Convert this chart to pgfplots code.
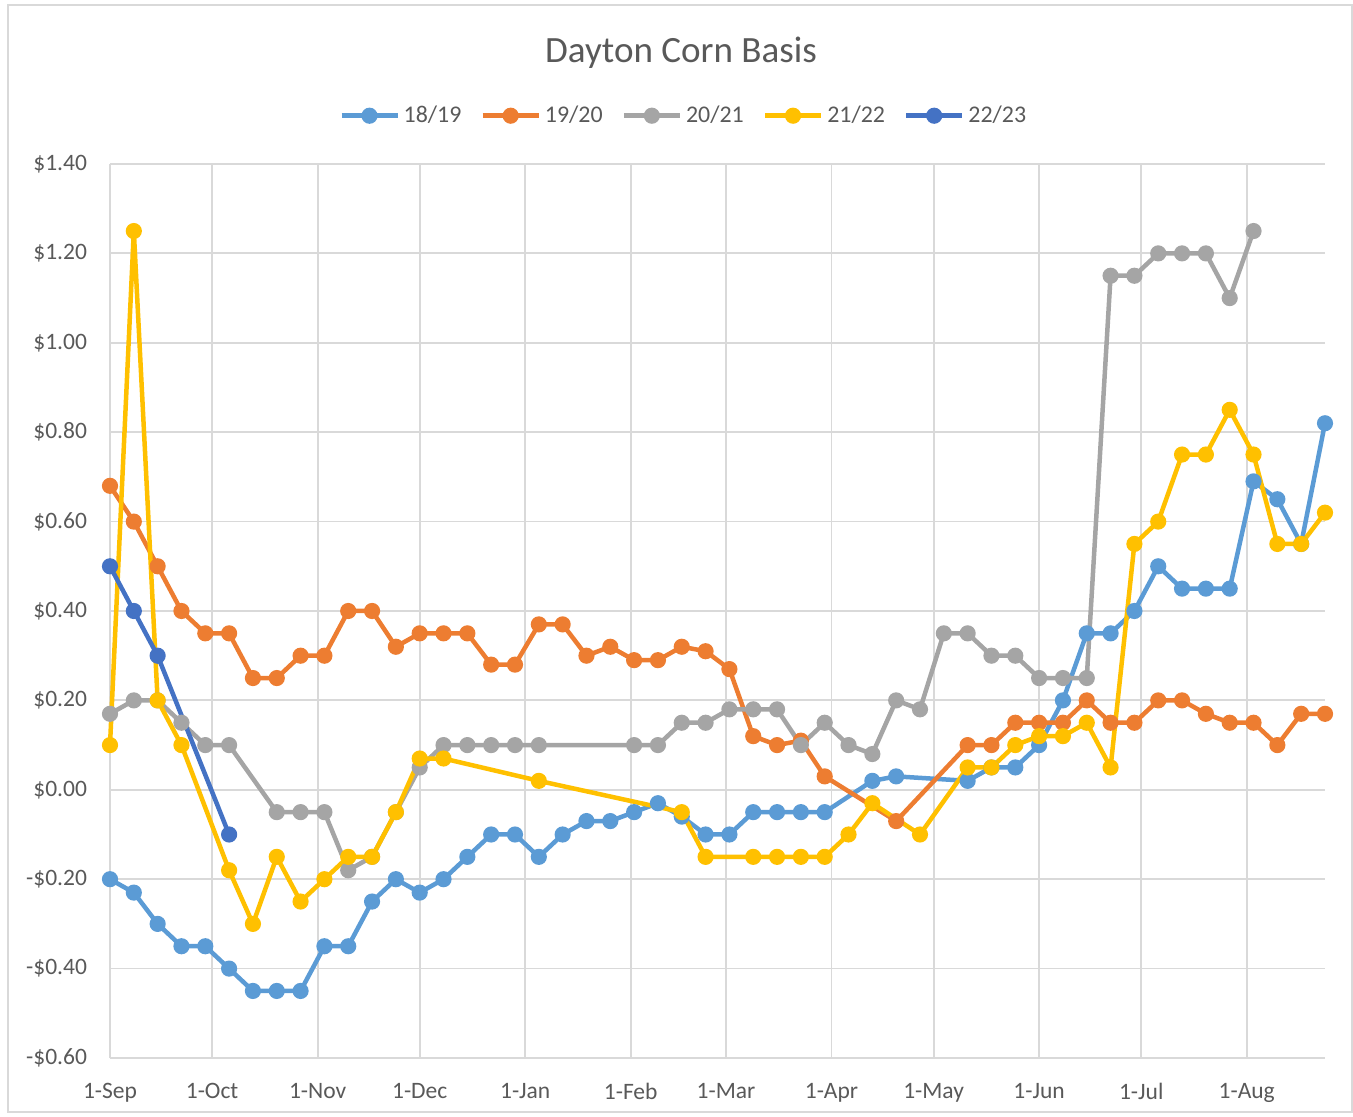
\documentclass[border=0pt]{standalone}
\usepackage{fontspec}
\setmainfont{Carlito}
\usepackage{pgfplots}
\pgfplotsset{compat=1.18}
\usepackage{pgfplotstable}
\definecolor{txt}{HTML}{595959}
\definecolor{gridc}{HTML}{D9D9D9}
\definecolor{cA}{HTML}{5B9BD5}
\definecolor{cB}{HTML}{ED7D31}
\definecolor{cC}{HTML}{A5A5A5}
\definecolor{cD}{HTML}{FFC000}
\definecolor{cE}{HTML}{4472C4}

\pgfplotstableread{
x y
0 -0.20
1 -0.23
2 -0.30
3 -0.35
4 -0.35
5 -0.40
6 -0.45
7 -0.45
8 -0.45
9 -0.35
10 -0.35
11 -0.25
12 -0.20
13 -0.23
14 -0.20
15 -0.15
16 -0.10
17 -0.10
18 -0.15
19 -0.10
20 -0.07
21 -0.07
22 -0.05
23 -0.03
24 -0.06
25 -0.10
26 -0.10
27 -0.05
28 -0.05
29 -0.05
30 -0.05
32 0.02
33 0.03
36 0.02
37 0.05
38 0.05
39 0.10
40 0.20
41 0.35
42 0.35
43 0.40
44 0.50
45 0.45
46 0.45
47 0.45
48 0.69
49 0.65
50 0.55
51 0.82
}\sA

\pgfplotstableread{
x y
0 0.68
1 0.60
2 0.50
3 0.40
4 0.35
5 0.35
6 0.25
7 0.25
8 0.30
9 0.30
10 0.40
11 0.40
12 0.32
13 0.35
14 0.35
15 0.35
16 0.28
17 0.28
18 0.37
19 0.37
20 0.30
21 0.32
22 0.29
23 0.29
24 0.32
25 0.31
26 0.27
27 0.12
28 0.10
29 0.11
30 0.03
33 -0.07
36 0.10
37 0.10
38 0.15
39 0.15
40 0.15
41 0.20
42 0.15
43 0.15
44 0.20
45 0.20
46 0.17
47 0.15
48 0.15
49 0.10
50 0.17
51 0.17
}\sB

\pgfplotstableread{
x y
0 0.17
1 0.20
2 0.20
3 0.15
4 0.10
5 0.10
7 -0.05
8 -0.05
9 -0.05
10 -0.18
11 -0.15
12 -0.05
13 0.05
14 0.10
15 0.10
16 0.10
17 0.10
18 0.10
22 0.10
23 0.10
24 0.15
25 0.15
26 0.18
27 0.18
28 0.18
29 0.10
30 0.15
31 0.10
32 0.08
33 0.20
34 0.18
35 0.35
36 0.35
37 0.30
38 0.30
39 0.25
40 0.25
41 0.25
42 1.15
43 1.15
44 1.20
45 1.20
46 1.20
47 1.10
48 1.25
}\sC

\pgfplotstableread{
x y
0 0.10
1 1.25
2 0.20
3 0.10
5 -0.18
6 -0.30
7 -0.15
8 -0.25
9 -0.20
10 -0.15
11 -0.15
12 -0.05
13 0.07
14 0.07
18 0.02
24 -0.05
25 -0.15
27 -0.15
28 -0.15
29 -0.15
30 -0.15
31 -0.10
32 -0.03
34 -0.10
36 0.05
37 0.05
38 0.10
39 0.12
40 0.12
41 0.15
42 0.05
43 0.55
44 0.60
45 0.75
46 0.75
47 0.85
48 0.75
49 0.55
50 0.55
51 0.62
}\sD

\pgfplotstableread{
x y
0 0.50
1 0.40
2 0.30
5 -0.10
}\sE

\begin{document}
\begin{tikzpicture}
\useasboundingbox (0,0) rectangle (676.5bp,558.5bp);
\draw[gridc, line width=0.75bp] (4bp,2.5bp) rectangle (676bp,556bp);
\node[txt, font=\fontsize{18.6}{22}\selectfont] at (340.5bp,532bp) {Dayton Corn Basis};
\begin{axis}[
  at={(55bp,29.5bp)}, anchor=south west,
  scale only axis, width=607.5bp, height=447bp,
  xmin=0, xmax=51, ymin=-0.6, ymax=1.4,
  axis line style={draw=none},
  major tick length=0pt,
  grid=major,
  major grid style={gridc, line width=0.9bp},
  xtick={0,4.2857,8.7143,13,17.4286,21.8571,25.8571,30.2857,34.5714,39,43.2857,47.7143},
  xticklabels={1-Sep,1-Oct,1-Nov,1-Dec,1-Jan,1-Feb,1-Mar,1-Apr,1-May,1-Jun,1-Jul,1-Aug},
  ytick={-0.6,-0.4,-0.2,0,0.2,0.4,0.6,0.8,1.0,1.2,1.4},
  yticklabels={-\$0.60,-\$0.40,-\$0.20,\$0.00,\$0.20,\$0.40,\$0.60,\$0.80,\$1.00,\$1.20,\$1.40},
  tick label style={txt, font=\fontsize{11.8}{14}\selectfont},
  yticklabel style={xshift=-8bp},
  xticklabel style={yshift=-9bp},
  clip=false,
  every axis plot/.append style={line width=2.25bp, mark=*, mark size=2.9bp, mark options={solid}},
  legend columns=5,
  legend style={at={(0.473,1.054)}, anchor=center, draw=none, fill=none,
    font=\fontsize{12}{14}\selectfont, text=txt,
    /tikz/every even column/.append style={column sep=7.5bp}},
  legend image code/.code={\draw[#1, mark repeat=2, mark phase=2] plot coordinates {(0bp,0bp) (14bp,0bp) (28bp,0bp)};},
]
\addplot[cA, mark options={fill=cA, draw=cA}] table[x=x,y=y] {\sA};
\addlegendentry{18/19}
\addplot[cB, mark options={fill=cB, draw=cB}] table[x=x,y=y] {\sB};
\addlegendentry{19/20}
\addplot[cC, mark options={fill=cC, draw=cC}] table[x=x,y=y] {\sC};
\addlegendentry{20/21}
\addplot[cD, mark options={fill=cD, draw=cD}] table[x=x,y=y] {\sD};
\addlegendentry{21/22}
\addplot[cE, mark options={fill=cE, draw=cE}] table[x=x,y=y] {\sE};
\addlegendentry{22/23}
\end{axis}
\end{tikzpicture}
\end{document}
